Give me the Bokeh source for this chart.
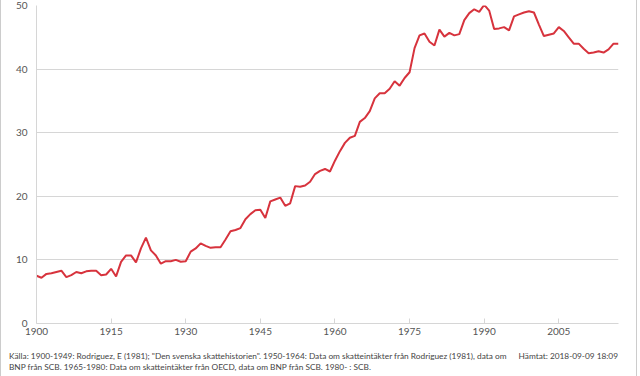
import html
from bokeh.plotting import figure
from bokeh.models import FixedTicker, Range1d, ColumnDataSource, Div
from bokeh.layouts import column
from bokeh.embed import file_html
from bokeh.resources import INLINE

years = list(range(1900, 2018))
values = [
    7.5, 7.2, 7.8, 7.9, 8.1, 8.3, 7.3, 7.6, 8.1, 7.9,
    8.2, 8.3, 8.3, 7.6, 7.7, 8.6, 7.4, 9.7, 10.7, 10.7,
    9.6, 11.8, 13.5, 11.5, 10.7, 9.4, 9.8, 9.8, 10.0, 9.7,
    9.8, 11.3, 11.8, 12.6, 12.2, 11.9, 12.0, 12.0, 13.2, 14.5,
    14.7, 15.0, 16.4, 17.2, 17.8, 17.9, 16.6, 19.2, 19.5, 19.8,
    18.5, 18.9, 21.6, 21.5, 21.7, 22.3, 23.5, 24.0, 24.3, 23.9,
    25.6, 27.1, 28.4, 29.2, 29.5, 31.7, 32.3, 33.4, 35.4, 36.2,
    36.2, 36.9, 38.1, 37.4, 38.6, 39.5, 43.3, 45.3, 45.6, 44.3,
    43.7, 46.2, 45.1, 45.7, 45.3, 45.5, 47.7, 48.8, 49.4, 49.0,
    50.1, 49.2, 46.3, 46.4, 46.6, 46.1, 48.3, 48.6, 48.9, 49.1,
    48.9, 47.0, 45.2, 45.4, 45.6, 46.6, 46.0, 45.0, 44.0, 44.0,
    43.2, 42.5, 42.6, 42.8, 42.6, 43.1, 44.0, 44.0,
]
x_ticks = [1900, 1915, 1930, 1945, 1960, 1975, 1990, 2005]
y_ticks = [0, 10, 20, 30, 40, 50]
source_line1 = ('Källa: 1900-1949: Rodriguez, E (1981); "Den svenska skattehistorien". '
                '1950-1964: Data om skatteintäkter från Rodriguez (1981), data om')
source_line2 = ('BNP från SCB. 1965-1980: Data om skatteintäkter från OECD, '
                'data om BNP från SCB. 1980- : SCB.')
retrieved = "Hämtat: 2018-09-09 18:09"

FONT = "Lato"
GRID = "#d6d6d6"

p = figure(width=635, height=345, output_backend="svg", toolbar_location=None,
           x_range=Range1d(1900, 2017), y_range=Range1d(0, 50),
           min_border_left=35, min_border_right=18, min_border_top=5,
           min_border_bottom=22)
p.outline_line_color = None

src = ColumnDataSource(dict(year=years, value=values))
p.line("year", "value", source=src, line_color="#d7333d", line_width=2)

p.xaxis.ticker = FixedTicker(ticks=x_ticks)
p.yaxis.ticker = FixedTicker(ticks=y_ticks)
p.xaxis.minor_tick_line_color = None
p.yaxis.minor_tick_line_color = None
p.xaxis.axis_line_color = GRID
p.yaxis.axis_line_color = GRID
p.xaxis.major_tick_in = 5
p.xaxis.major_tick_out = 0
p.xaxis.major_tick_line_color = GRID
p.yaxis.major_tick_line_color = None
for ax in (p.xaxis, p.yaxis):
    ax.major_label_text_font = FONT
    ax.major_label_text_font_size = "10px"
    ax.major_label_text_color = "#555555"
p.xaxis.major_label_standoff = 4
p.yaxis.major_label_standoff = 3
p.xgrid.grid_line_color = None
p.ygrid.grid_line_color = GRID
p.ygrid.ticker = FixedTicker(ticks=y_ticks)

note_html = (
    '<div style="position:relative;width:635px;height:31px;font-family:Lato;'
    'font-size:8.3px;color:#444444;line-height:11px;white-space:nowrap;">'
    f'<div style="position:absolute;left:8px;top:6px;">{html.escape(source_line1)}'
    f'<br>{html.escape(source_line2)}</div>'
    f'<div style="position:absolute;right:18px;top:6px;">{html.escape(retrieved)}</div></div>'
)
note = Div(text=note_html, width=635, height=31, margin=(0, 0, 0, 0))

layout = column(p, note, spacing=0,
                styles={"border-left": "1px solid #cccccc",
                        "border-right": "1px solid #cccccc"})

open("out.html", "w").write(file_html(layout, INLINE))
